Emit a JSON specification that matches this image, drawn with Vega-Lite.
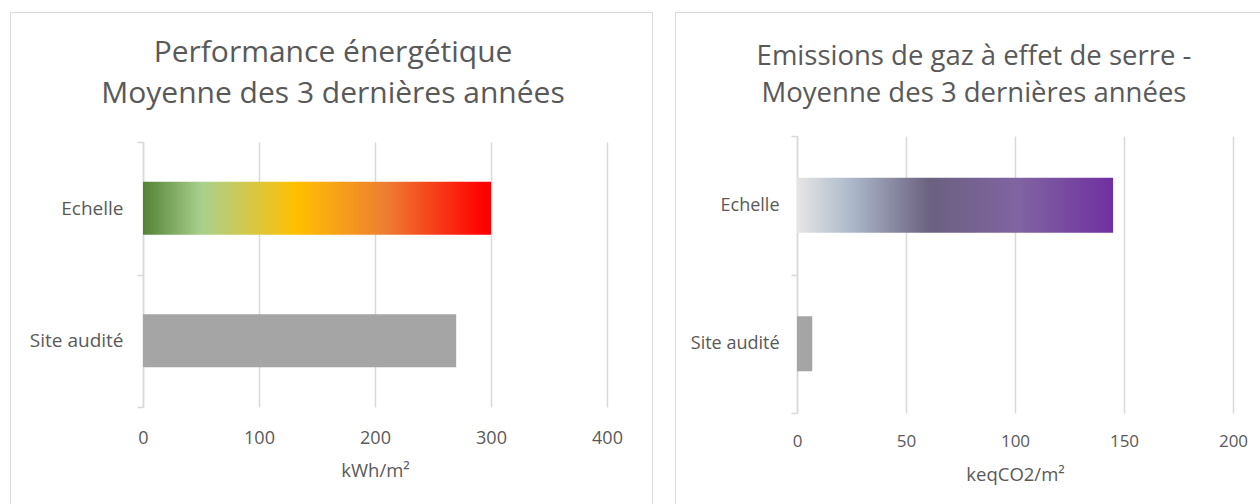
{
  "$schema": "https://vega.github.io/schema/vega-lite/v6.json",
  "padding": {"left": 9, "top": 2, "right": 0, "bottom": 0},
  "background": "white",
  "spacing": 21,
  "config": {
    "view": {"stroke": "#d9d9d9", "strokeWidth": 1},
    "font": "Open Sans"
  },
  "hconcat": [
    {
      "width": 642,
      "height": 493,
      "title": {
        "text": ["Performance énergétique", "Moyenne des 3 dernières années"],
        "fontSize": 30, "font": "Open Sans", "fontWeight": "normal", "color": "#595959",
        "anchor": "middle", "frame": "group", "offset": -106, "lineHeight": 41, "dx": 2
      },
      "data": {"values": [
        {"categorie": "Echelle", "valeur": 300},
        {"categorie": "Site audité", "valeur": 270}
      ]},
      "resolve": {"axis": {"x": "independent"}},
      "encoding": {
        "y": {
          "field": "categorie", "type": "nominal",
          "scale": {"domain": ["Echelle", "Site audité"], "range": [130, 395], "paddingInner": 0, "paddingOuter": 0},
          "axis": {
            "orient": "left", "offset": -133, "title": null, "grid": false,
            "domain": true, "domainColor": "#d9d9d9", "domainWidth": 1.5,
            "ticks": true, "tickBand": "extent", "tickSize": 6, "tickColor": "#d9d9d9", "tickWidth": 1.5,
            "labelPadding": 14, "labelFont": "Open Sans", "labelFontSize": 19, "labelColor": "#595959"
          }
        }
      },
      "layer": [
        {
          "transform": [{"filter": "datum.categorie === 'Echelle'"}],
          "mark": {
            "type": "bar", "size": 53,
            "color": {
              "gradient": "linear", "x1": 0, "y1": 0, "x2": 1, "y2": 0,
              "stops": [
                {"offset": 0, "color": "#548235"},
                {"offset": 0.17, "color": "#a9d18e"},
                {"offset": 0.44, "color": "#ffc000"},
                {"offset": 0.7, "color": "#ed7d31"},
                {"offset": 0.98, "color": "#ff0000"},
                {"offset": 1, "color": "#ff0000"}
              ]
            }
          },
          "encoding": {
            "x": {
              "field": "valeur", "type": "quantitative",
              "scale": {"domain": [0, 400], "range": [133, 597], "nice": false, "zero": true},
              "axis": {
                "orient": "top", "values": [0, 100, 200, 300, 400],
                "grid": true, "gridColor": "#d9d9d9", "gridWidth": 1.5,
                "domain": false, "ticks": false, "labels": false, "title": null
              }
            }
          }
        },
        {
          "transform": [{"filter": "datum.categorie === 'Site audité'"}],
          "mark": {"type": "bar", "size": 53, "color": "#a5a5a5"},
          "encoding": {
            "x": {
              "field": "valeur", "type": "quantitative",
              "scale": {"domain": [0, 400], "range": [133, 597], "nice": false, "zero": true},
              "axis": {
                "orient": "bottom", "offset": -98, "values": [0, 100, 200, 300, 400],
                "grid": false, "domain": false, "ticks": false, "labelFlush": false,
                "labelPadding": 22, "labelFont": "Open Sans", "labelFontSize": 18, "labelColor": "#595959",
                "title": "kWh/m²", "titleFont": "Open Sans", "titleFontSize": 18.5, "titleFontWeight": "normal",
                "titleColor": "#595959", "titlePadding": 14
              }
            }
          }
        }
      ]
    },
    {
      "width": 586,
      "height": 493,
      "title": {
        "text": ["Emissions de gaz à effet de serre -", "Moyenne des 3 dernières années"],
        "fontSize": 27.5, "font": "Open Sans", "fontWeight": "normal", "color": "#595959",
        "anchor": "middle", "frame": "group", "offset": -104, "lineHeight": 37, "dx": 6
      },
      "data": {"values": [
        {"categorie": "Echelle", "valeur": 145},
        {"categorie": "Site audité", "valeur": 7}
      ]},
      "resolve": {"axis": {"x": "independent"}},
      "encoding": {
        "y": {
          "field": "categorie", "type": "nominal",
          "scale": {"domain": ["Echelle", "Site audité"], "range": [124, 401], "paddingInner": 0, "paddingOuter": 0},
          "axis": {
            "orient": "left", "offset": -122, "title": null, "grid": false,
            "domain": true, "domainColor": "#d9d9d9", "domainWidth": 1.5,
            "ticks": true, "tickBand": "extent", "tickSize": 6, "tickColor": "#d9d9d9", "tickWidth": 1.5,
            "labelPadding": 12, "labelFont": "Open Sans", "labelFontSize": 18, "labelColor": "#595959"
          }
        }
      },
      "layer": [
        {
          "transform": [{"filter": "datum.categorie === 'Echelle'"}],
          "mark": {
            "type": "bar", "size": 55,
            "color": {
              "gradient": "linear", "x1": 0, "y1": 0, "x2": 1, "y2": 0,
              "stops": [
                {"offset": 0, "color": "#e7e6e6"},
                {"offset": 0.17, "color": "#adb9ca"},
                {"offset": 0.42, "color": "#6b6180"},
                {"offset": 0.7, "color": "#8064a2"},
                {"offset": 1, "color": "#7030a0"}
              ]
            }
          },
          "encoding": {
            "x": {
              "field": "valeur", "type": "quantitative",
              "scale": {"domain": [0, 200], "range": [122, 558], "nice": false, "zero": true},
              "axis": {
                "orient": "top", "values": [0, 50, 100, 150, 200],
                "grid": true, "gridColor": "#d9d9d9", "gridWidth": 1.5,
                "domain": false, "ticks": false, "labels": false, "title": null
              }
            }
          }
        },
        {
          "transform": [{"filter": "datum.categorie === 'Site audité'"}],
          "mark": {"type": "bar", "size": 55, "color": "#a5a5a5"},
          "encoding": {
            "x": {
              "field": "valeur", "type": "quantitative",
              "scale": {"domain": [0, 200], "range": [122, 558], "nice": false, "zero": true},
              "axis": {
                "orient": "bottom", "offset": -92, "values": [0, 50, 100, 150, 200],
                "grid": false, "domain": false, "ticks": false, "labelFlush": false,
                "labelPadding": 20, "labelFont": "Open Sans", "labelFontSize": 17, "labelColor": "#595959",
                "title": "keqCO2/m²", "titleFont": "Open Sans", "titleFontSize": 18.5, "titleFontWeight": "normal",
                "titleColor": "#595959", "titlePadding": 16
              }
            }
          }
        }
      ]
    }
  ]
}
